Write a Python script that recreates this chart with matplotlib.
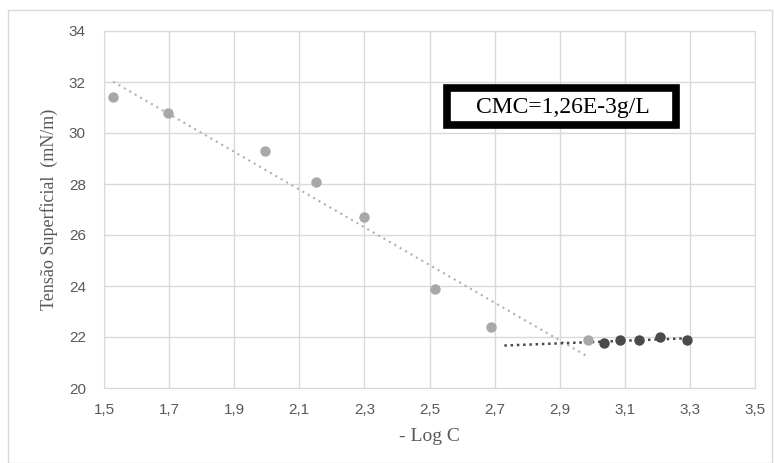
import numpy as np
import matplotlib
matplotlib.use('Agg')
import matplotlib.pyplot as plt
from matplotlib.patches import Rectangle

# data
x_pre  = [1.528, 1.697, 1.995, 2.151, 2.299, 2.517, 2.689, 2.987]
y_pre  = [31.41, 30.78, 29.29, 28.08, 26.70, 23.88, 22.39, 21.88]
x_post = [3.036, 3.085, 3.143, 3.207, 3.291]
y_post = [21.76, 21.88, 21.88, 22.00, 21.88]

x_ticks = [1.5, 1.7, 1.9, 2.1, 2.3, 2.5, 2.7, 2.9, 3.1, 3.3, 3.5]
y_ticks = [20, 22, 24, 26, 28, 30, 32, 34]

LIGHT = '#a8a8a8'
DARK  = '#4a4a4a'
GRID  = '#d9d9d9'
TXT   = '#595959'

W, H = 774, 463
fig = plt.figure(figsize=(W / 100, H / 100), dpi=100)
fig.patches.append(Rectangle((8/W, 0), 764/W, 1 - 10/H,
                             transform=fig.transFigure, fill=False,
                             ec='#d9d9d9', lw=1))
ax = fig.add_axes([104/W, 1 - 388/H, 651/W, 357/H])

# trendlines (linear fits)
k1, b1 = np.polyfit(x_pre, y_pre, 1)
xs1 = np.array([x_pre[0], x_pre[-1]])
ax.plot(xs1, k1 * xs1 + b1, ls=(0, (1, 2)), color='#b0b0b0', lw=1.5, zorder=2)
k2, b2 = np.polyfit(x_post, y_post, 1)
xs2 = np.array([2.73, x_post[-1]])
ax.plot(xs2, k2 * xs2 + b2, ls=(0, (1, 1.5)), color=DARK, lw=1.8, zorder=2)

ax.plot(x_pre, y_pre, 'o', color=LIGHT, ms=7.5, mec='none', zorder=3)
ax.plot(x_post, y_post, 'o', color=DARK, ms=7.5, mec='none', zorder=4)

ax.set_xlim(1.5, 3.5)
ax.set_ylim(20, 34)
ax.set_xticks(x_ticks)
ax.set_xticklabels([f'{t:.1f}'.replace('.', ',') for t in x_ticks])
ax.set_yticks(y_ticks)
ax.grid(True, color=GRID, lw=1)
ax.set_axisbelow(True)
for s in ax.spines.values():
    s.set_color(GRID)
ax.tick_params(axis='y', length=0, labelsize=11, labelcolor=TXT, pad=13)
ax.tick_params(axis='x', length=0, labelsize=11, labelcolor=TXT, pad=11)
for lbl in ax.get_xticklabels() + ax.get_yticklabels():
    lbl.set_family('Liberation Sans')

ax.set_xlabel('- Log C', family='Liberation Serif', fontsize=14, color=TXT,
              labelpad=8)
ax.set_ylabel('Tensão Superficial  (mN/m)', family='Liberation Serif',
              fontsize=13, color=TXT, labelpad=8)

# CMC box with thick black frame
fig.patches.append(Rectangle((447/W, 1 - 125/H), 229/W, 37/H,
                             transform=fig.transFigure, fc='white',
                             ec='black', lw=5.5, zorder=5))
fig.text(563/W, 1 - 107/H, 'CMC=1,26E-3g/L', family='Liberation Serif',
         fontsize=17, color='black', ha='center', va='center', zorder=6)

fig.savefig('out.png', dpi=100)
